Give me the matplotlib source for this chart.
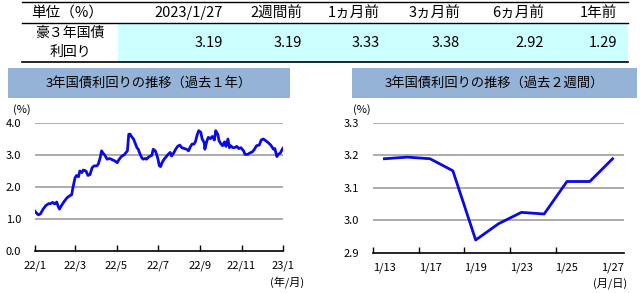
"""Australian 3y government bond yield summary: table plus two line charts."""

import datetime as dt

import matplotlib
matplotlib.use("Agg")
from matplotlib import pyplot as plt
from matplotlib.patches import Rectangle

plt.rcParams['font.family'] = ['Noto Sans CJK JP', 'DejaVu Sans']

# table
col_labels = ["2023/1/27", "2週間前", "1ヵ月前", "3ヵ月前", "6ヵ月前", "1年前"]
row_label = ["豪３年国債", "利回り"]
row_values = [3.19, 3.19, 3.33, 3.38, 2.92, 1.29]

# past year, days from 2022/1/27 and yield (%)
year_start = dt.datetime(2022, 1, 27)
days_1y = [0, 2, 5, 8, 12, 16, 20, 23, 26, 29, 32, 34, 36, 39, 43, 47, 50, 54,
           56, 59, 61, 64, 66, 69, 71, 75, 78, 81, 84, 87, 91, 93, 96, 98, 100,
           103, 106, 110, 114, 118, 121, 124, 128, 131, 134, 136, 138, 140, 142,
           145, 147, 150, 152, 154, 157, 159, 162, 164, 168, 172, 174, 177, 179,
           181, 183, 185, 187, 190, 194, 196, 199, 201, 204, 207, 210, 213, 216,
           220, 223, 226, 228, 231, 234, 236, 239, 241, 244, 246, 249, 250, 253,
           255, 258, 261, 264, 266, 269, 271, 274, 276, 279, 281, 284, 286, 288,
           291, 294, 297, 300, 303, 307, 309, 313, 316, 320, 323, 326, 330, 333,
           336, 340, 343, 347, 351, 353, 356, 358, 361, 364, 365]
yield_1y = [1.24, 1.19, 1.13, 1.16, 1.31, 1.42, 1.48, 1.48, 1.52, 1.47, 1.53,
            1.40, 1.31, 1.42, 1.55, 1.66, 1.71, 1.76, 2.00, 2.29, 2.36, 2.32,
            2.50, 2.45, 2.53, 2.50, 2.36, 2.39, 2.60, 2.66, 2.66, 2.71, 2.92,
            3.13, 3.06, 2.99, 2.87, 2.89, 2.85, 2.81, 2.76, 2.87, 2.97, 3.00,
            3.08, 3.13, 3.65, 3.65, 3.58, 3.50, 3.39, 3.23, 3.18, 3.06, 2.92,
            2.87, 2.89, 2.87, 2.95, 2.99, 3.18, 3.13, 3.02, 2.87, 2.66, 2.64,
            2.76, 2.87, 2.97, 3.02, 3.08, 2.97, 3.06, 3.18, 3.27, 3.31, 3.23,
            3.20, 3.18, 3.13, 3.23, 3.34, 3.34, 3.41, 3.65, 3.76, 3.71, 3.50,
            3.39, 3.18, 3.44, 3.55, 3.51, 3.58, 3.47, 3.76, 3.65, 3.44, 3.34,
            3.29, 3.41, 3.27, 3.50, 3.23, 3.29, 3.23, 3.23, 3.27, 3.20, 3.23,
            3.13, 3.02, 3.02, 3.06, 3.10, 3.18, 3.29, 3.31, 3.47, 3.50, 3.44,
            3.39, 3.31, 3.18, 3.20, 2.95, 3.02, 3.06, 3.18, 3.21]
year_ticks = ["22/1", "22/3", "22/5", "22/7", "22/9", "22/11", "23/1"]

# past two weeks
days_2w = ["1/13", "1/16", "1/17", "1/18", "1/19", "1/20", "1/23", "1/24",
           "1/25", "1/26", "1/27"]
yield_2w = [3.19, 3.195, 3.19, 3.153, 2.94, 2.99, 3.025, 3.02, 3.12, 3.12, 3.19]

LINE = "#0A0AE6"
GRID = "#A6A6A6"
BOX = "#95B3D7"
W, H = 640, 293

fig = plt.figure(figsize=(6.4, 2.93), dpi=100)

# overlay in pixel coordinates for the table and title boxes
bg = fig.add_axes([0, 0, 1, 1])
bg.set_xlim(0, W)
bg.set_ylim(H, 0)
bg.axis("off")

bg.add_patch(Rectangle((118, 23), 628 - 118, 39, color="#CCFFFF", lw=0))
bg.plot([22, 628], [1.5, 1.5], color="black", lw=1)
bg.plot([22, 628], [23, 23], color="black", lw=1)
bg.plot([22, 628], [62, 62], color="black", lw=1.2)

col_right = [223, 302, 380, 460, 544, 617]
bg.text(67, 13, "単位（%）", ha="center", va="center", fontsize=10.5)
for x, lab, val in zip(col_right, col_labels, row_values):
    bg.text(x, 13, lab, ha="right", va="center", fontsize=10.5)
    bg.text(x, 43, "{:.2f}".format(val), ha="right", va="center", fontsize=10.5)
bg.text(70, 33, row_label[0], ha="center", va="center", fontsize=10)
bg.text(70, 52, row_label[1], ha="center", va="center", fontsize=10)

bg.add_patch(Rectangle((8, 68), 282, 30, color=BOX, lw=0))
bg.add_patch(Rectangle((352, 68), 285, 30, color=BOX, lw=0))
bg.text(149, 83, "3年国債利回りの推移（過去１年）", ha="center", va="center",
        fontsize=9.5)
bg.text(494, 83, "3年国債利回りの推移（過去２週間）", ha="center", va="center",
        fontsize=9.5)
bg.text(22, 110, "(%)", ha="center", va="center", fontsize=8)
bg.text(362, 110, "(%)", ha="center", va="center", fontsize=8)
bg.text(287, 282, "(年/月)", ha="center", va="center", fontsize=8)
bg.text(610, 283, "(月/日)", ha="center", va="center", fontsize=8)


def _style(ax, yticks):
    """Excel-like look: grey grid, black base line, inward x ticks."""
    for s in ["top", "right", "left"]:
        ax.spines[s].set_visible(False)
    ax.spines["bottom"].set_color("black")
    ax.spines["bottom"].set_linewidth(1.2)
    ax.set_yticks(yticks)
    ax.set_yticklabels(["{:.1f}".format(t) for t in yticks])
    for t in yticks[1:]:
        ax.axhline(t, color=GRID, lw=1.3, zorder=0)
    ax.tick_params(axis="y", length=0, pad=10, labelsize=8)
    ax.tick_params(axis="x", direction="in", length=4, width=1, pad=7,
                   labelsize=8)


# past year chart
ax1 = fig.add_axes([35 / W, (H - 251) / H, 248 / W, 128 / H])
x1 = [year_start + dt.timedelta(days=d) for d in days_1y]
ax1.plot(x1, yield_1y, color=LINE, lw=2)
ax1.set_ylim(0, 4)
tick_dates = []
for k in range(len(year_ticks)):
    m = 1 + 2 * k
    tick_dates.append(dt.datetime(2022 + (m - 1) // 12, (m - 1) % 12 + 1, 27))
ax1.set_xlim(tick_dates[0], tick_dates[-1])
ax1.set_xticks(tick_dates)
ax1.set_xticklabels(year_ticks)
_style(ax1, [0, 1, 2, 3, 4])

# past two weeks chart
ax2 = fig.add_axes([373 / W, (H - 253) / H, 251 / W, 130 / H])
ax2.plot(range(len(days_2w)), yield_2w, color=LINE, lw=2)
ax2.set_ylim(2.9, 3.3)
ax2.set_xlim(-0.5, len(days_2w) - 0.5)
ax2.set_xticks([i - 0.5 for i in range(0, len(days_2w) - 1, 2)])
ax2.set_xticklabels([])
ax2.set_xticks(range(0, len(days_2w), 2), minor=True)
ax2.set_xticklabels(days_2w[::2], minor=True)
_style(ax2, [2.9, 3.0, 3.1, 3.2, 3.3])
ax2.tick_params(axis="x", which="minor", length=0, pad=7, labelsize=8)

fig.savefig("out.png", dpi=100)
